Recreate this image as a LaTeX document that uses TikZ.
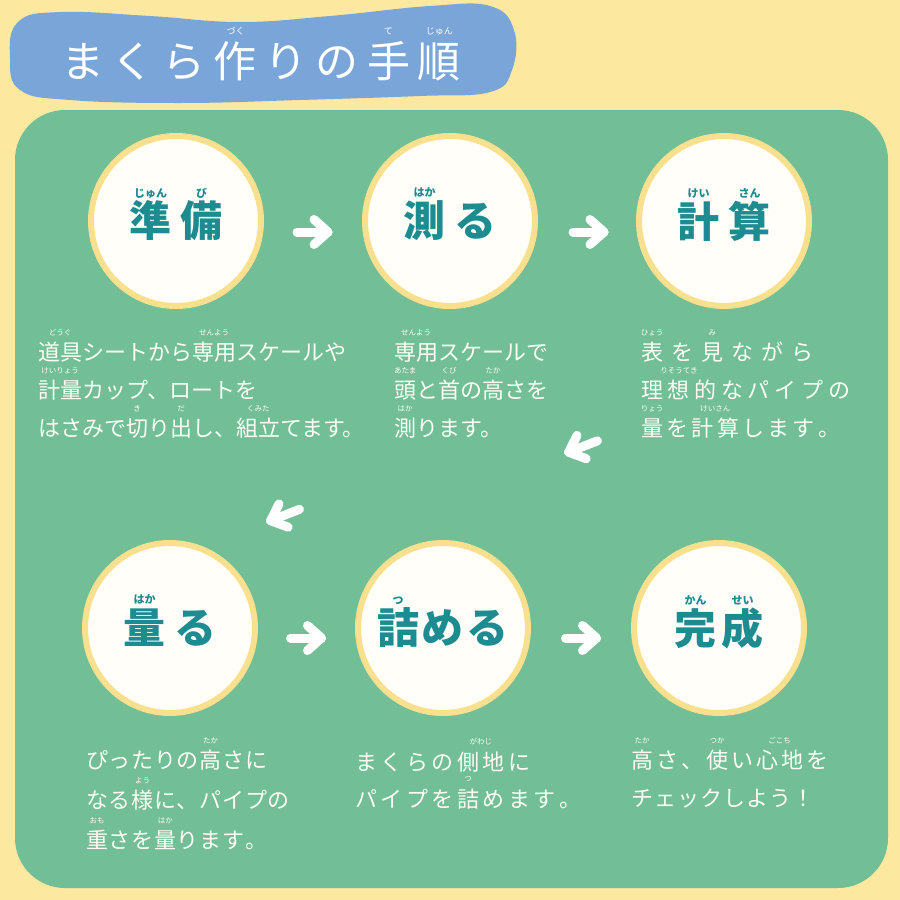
\documentclass[tikz,border=0pt]{standalone}
\usepackage{fontspec}
\newfontfamily\jp{Noto Sans CJK JP}
\definecolor{bgY}{RGB}{253,232,160}
\definecolor{panelG}{RGB}{114,190,150}
\definecolor{blobB}{RGB}{122,165,216}
\definecolor{ringY}{RGB}{248,224,142}
\definecolor{discW}{RGB}{255,254,248}
\definecolor{tealT}{RGB}{28,140,145}
\definecolor{txtW}{RGB}{255,253,245}
\newcommand\rbr{1.15em}
\newcommand\rbf{}
\newcommand\lsamt{0pt}
\newcommand\rb[2]{\leavevmode\setbox0\hbox{#1}\rlap{\raisebox{\rbr}[0pt][0pt]{\makebox[\wd0][c]{\rbf #2}}}\box0}
\makeatletter
\def\lsp#1{\lsp@#1\lsp@end}
\def\lsp@end{\lsp@end}
\def\lsp@#1{%
  \ifx#1\lsp@end \expandafter\lsp@fin
  \else\ifx#1\rb \expandafter\expandafter\expandafter\lsp@rb
  \else \expandafter\expandafter\expandafter\lsp@ch\fi\fi #1}
\def\lsp@fin#1{\kern-\lsamt\relax}
\def\lsp@rb\rb#1#2{\rb{\lsp{#1}}{#2}\kern\lsamt\lsp@}
\def\lsp@ch#1{#1\kern\lsamt\lsp@}
\makeatother
\tikzset{
  bodyline/.style={anchor=base west, inner sep=0pt, text=txtW,
    font=\jp\fontsize{22}{22}\selectfont\def\rbf{\fontsize{7.5}{7.5}\selectfont}\def\rbr{1.15em}\def\lsamt{#1}},
  bodyline/.default=0pt,
  stepdisc/.style={circle, minimum size=170pt, inner sep=0pt, draw=ringY, line width=6pt, fill=discW, text=tealT,
    font=\jp\bfseries\fontsize{42}{42}\selectfont\def\rbf{\fontsize{11}{11}\selectfont}\def\rbr{0.95em}\def\lsamt{#1}},
  stepdisc/.default=9pt,
  arr/.style={draw=white, line width=9pt, line cap=round, line join=round},
  chev/.pic={\draw[arr] (-15.5,0) -- (15.5,0); \draw[arr] (1.5,12.5) -- (15.5,0) -- (1.5,-12.5);}
}
\begin{document}
\begin{tikzpicture}[x=1pt,y=-1pt]
\useasboundingbox (0,0) rectangle (900,900);
\fill[bgY] (0,0) rectangle (900,900);
% title blob
\fill[blobB] plot[smooth cycle, tension=0.7] coordinates {(10,58) (18,22) (60,12) (150,16) (240,22) (330,16) (430,6) (490,6) (514,30) (512,70) (490,92) (420,96) (300,100) (180,103) (70,100) (20,90)};
\node[inner sep=0pt, text=white, font=\jp\fontsize{43}{43}\selectfont\def\rbf{\fontsize{9}{9}\selectfont}\def\rbr{1.0em}\def\lsamt{8pt}] (title) at (261,61) {\lsp{まくら\rb{作}{づく}りの\rb{手}{て}\rb{順}{じゅん}}};
% green panel
\fill[panelG, rounded corners=50pt] (15,110) rectangle (888,888);
% discs
\node[stepdisc] (c1) at (176,221) {\lsp{\rb{準}{じゅん}\rb{備}{び}}};
\node[stepdisc] (c2) at (450,221) {\lsp{\rb{測}{はか}る}};
\node[stepdisc] (c3) at (724,221) {\lsp{\rb{計}{けい}\rb{算}{さん}}};
\node[stepdisc] (c4) at (170,628) {\lsp{\rb{量}{はか}る}};
\node[stepdisc=3pt] (c5) at (443,628) {\lsp{\rb{詰}{つ}める}};
\node[stepdisc=5pt] (c6) at (719,628) {\lsp{\rb{完}{かん}\rb{成}{せい}}};
% arrows
\pic at (312.5,232) {chev};
\pic at (588.5,232) {chev};
\pic[rotate=201.4] at (583,446.5) {chev};
\pic[rotate=201.4] at (285,515) {chev};
\pic at (306,638) {chev};
\pic at (581,638) {chev};
% texts block 1
\node[bodyline] (t1a) at (38,360.5) {\rb{道具}{どうぐ}シートから\rb{専用}{せんよう}スケールや};
\node[bodyline] (t1b) at (38,398.5) {\rb{計量}{けいりょう}カップ、ロートを};
\node[bodyline] (t1c) at (38,436.5) {はさみで\rb{切}{き}り\rb{出}{だ}し、\rb{組立}{くみた}てます。};
% block 2
\node[bodyline] (t2a) at (394,360.5) {\rb{専用}{せんよう}スケールで};
\node[bodyline] (t2b) at (394,398.5) {\rb{頭}{あたま}と\rb{首}{くび}の\rb{高}{たか}さを};
\node[bodyline] (t2c) at (394,436.5) {\rb{測}{はか}ります。};
% block 3
\node[bodyline=8pt] (t3a) at (641,360.5) {\lsp{\rb{表}{ひょう}を\rb{見}{み}ながら}};
\node[bodyline=4.7pt] (t3b) at (641,398.5) {\lsp{\rb{理想的}{りそうてき}なパイプの}};
\node[bodyline=3.3pt] (t3c) at (641,436.5) {\lsp{\rb{量}{りょう}を\rb{計算}{けいさん}します。}};
% block 4
\node[bodyline=0.7pt] (t4a) at (86,768.5) {\lsp{ぴったりの\rb{高}{たか}さに}};
\node[bodyline=0.7pt] (t4b) at (86,808.5) {\lsp{なる\rb{様}{よう}に、パイプの}};
\node[bodyline=0.7pt] (t4c) at (86,848.5) {\lsp{\rb{重}{おも}さを\rb{量}{はか}ります。}};
% block 5
\node[bodyline=3.5pt] (t5a) at (355,770) {\lsp{まくらの\rb{側地}{がわじ}に}};
\node[bodyline=3.5pt] (t5b) at (355,807) {\lsp{パイプを\rb{詰}{つ}めます。}};
% block 6
\node[bodyline=3pt] (t6a) at (631,768.5) {\lsp{\rb{高}{たか}さ、\rb{使}{つか}い\rb{心地}{ごこち}を}};
\node[bodyline=1pt] (t6b) at (631,806.5) {\lsp{チェックしよう！}};
\end{tikzpicture}
\end{document}
